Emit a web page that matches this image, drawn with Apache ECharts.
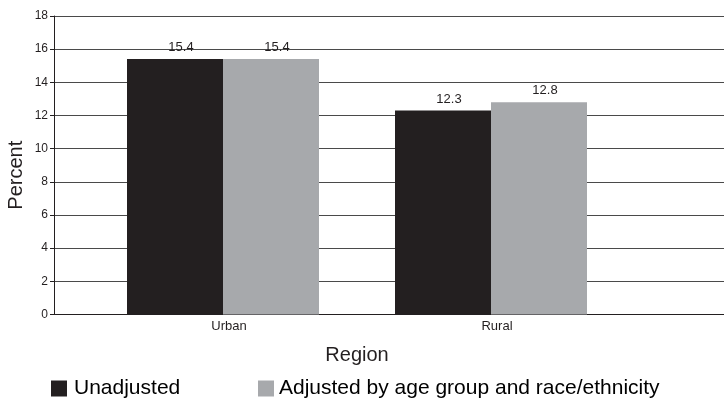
<!DOCTYPE html>
<html>
<head>
<meta charset="utf-8">
<script src="https://cdn.jsdelivr.net/npm/echarts@6/dist/echarts.min.js"></script>
<style>
  html, body { margin: 0; padding: 0; background: #fff; }
  #chart { width: 724px; height: 400px; }
</style>
</head>
<body>
<div id="chart"></div>
<script>
// Share of population by region, unadjusted vs adjusted
const regions = ['Urban', 'Rural'];
const unadjusted = [15.4, 12.3];
const adjusted = [15.4, 12.8];
const seriesNames = ['Unadjusted', 'Adjusted by age group and race/ethnicity'];

const FONT = 'Liberation Sans, Arial, Helvetica, sans-serif';
const chart = echarts.init(document.getElementById('chart'), null, { renderer: 'canvas' });

const labelStyle = {
  show: true,
  position: 'top',
  distance: 5,
  offset: [6, 0],
  color: '#231f20',
  fontFamily: FONT,
  fontSize: 13,
  formatter: p => p.value.toFixed(1)
};

chart.setOption({
  animation: false,
  backgroundColor: '#fff',
  grid: [
    // full-width frame: y axis, gridlines and baseline
    { left: 54, right: 0, top: 16, bottom: 85.5, containLabel: false, outerBoundsMode: 'none' },
    // bar area
    { left: 89, width: 536, top: 16, bottom: 85.5, containLabel: false, outerBoundsMode: 'none' }
  ],
  legend: [
    {
      data: [seriesNames[0]], left: 46, top: 373,
      itemWidth: 16, itemHeight: 16, itemGap: 0,
      icon: 'rect',
      textStyle: { fontFamily: FONT, fontSize: 21, color: '#000', padding: [0, 0, 0, 2] }
    },
    {
      data: [seriesNames[1]], left: 253, top: 373,
      itemWidth: 16, itemHeight: 16, itemGap: 0,
      icon: 'rect',
      textStyle: { fontFamily: FONT, fontSize: 21, color: '#000', padding: [0, 0, 0, 0] }
    }
  ],
  xAxis: [
    {
      gridIndex: 0, type: 'value', min: 0, max: 1,
      axisLine: { show: true, lineStyle: { color: '#231f20', width: 1 } },
      axisTick: { show: false }, axisLabel: { show: false }, splitLine: { show: false }
    },
    {
      gridIndex: 1, type: 'category', data: regions, boundaryGap: true,
      axisLine: { show: false }, axisTick: { show: false },
      axisLabel: { fontFamily: FONT, fontSize: 13, color: '#231f20', margin: 5, padding: [0, 0, 0, 12] },
      name: 'Region', nameLocation: 'middle', nameGap: 31, nameMoveOverlap: false,
      nameTextStyle: { fontFamily: FONT, fontSize: 20, color: '#231f20', letterSpacing: 1.5 }
    }
  ],
  yAxis: [
    {
      gridIndex: 0, type: 'value', min: 0, max: 18, interval: 2,
      axisLine: { show: true, lineStyle: { color: '#231f20', width: 1 } },
      axisTick: { show: true, length: 4, inside: false, lineStyle: { color: '#231f20' } },
      axisLabel: { fontFamily: FONT, fontSize: 12, color: '#231f20', margin: 6 },
      splitLine: { show: true, lineStyle: { color: '#4a4a4a', width: 1 } },
      name: 'Percent', nameLocation: 'middle', nameRotate: 90, nameGap: 28, nameMoveOverlap: false,
      nameTextStyle: { fontFamily: FONT, fontSize: 20, color: '#231f20', padding: [0, 20, 0, 0] }
    },
    {
      gridIndex: 1, type: 'value', min: 0, max: 18, interval: 2, show: false
    }
  ],
  series: [
    {
      name: seriesNames[0], type: 'bar', xAxisIndex: 1, yAxisIndex: 1,
      data: unadjusted, barWidth: 96, barGap: '0%',
      itemStyle: { color: '#231f20' },
      label: labelStyle
    },
    {
      name: seriesNames[1], type: 'bar', xAxisIndex: 1, yAxisIndex: 1,
      data: adjusted, barWidth: 96, barGap: '0%',
      itemStyle: { color: '#a7a9ac' },
      label: labelStyle
    }
  ]
});
</script>
</body>
</html>
